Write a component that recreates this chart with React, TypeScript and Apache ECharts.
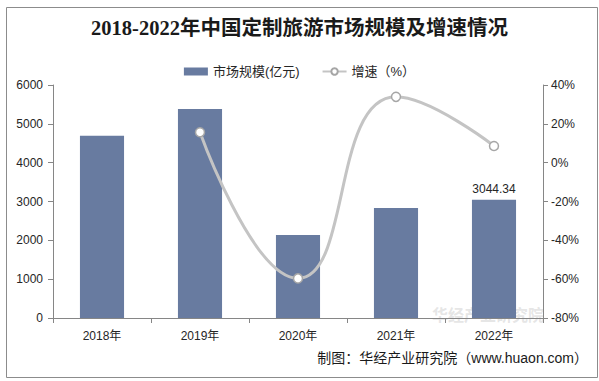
import React, { useEffect, useRef } from "react";
import * as echarts from "echarts";

const categories = ["2018年", "2019年", "2020年", "2021年", "2022年"];
const marketSize = [4695, 5380, 2140, 2833, 3044.34];
const growth = [null, 15.7, -59.6, 33.9, 8.6];
const leftTicks = { min: 0, max: 6000, interval: 1000 };
const rightTicks = { min: -80, max: 40, interval: 20 };
const titleText = "2018-2022年中国定制旅游市场规模及增速情况";
const sourceText = "制图：华经产业研究院（www.huaon.com）";
const watermarkText = "华经产业研究院";

export default function App() {
  const ref = useRef<HTMLDivElement>(null);
  useEffect(() => {
    if (!ref.current) return;
    const chart = echarts.init(ref.current, null, { renderer: "svg" });
    const axisColor = "#868686";
    const labelColor = "#262626";
    const font = "'Liberation Sans', Arial, 'Noto Sans CJK SC', sans-serif";
    chart.setOption({
      animation: false,
      backgroundColor: "#fff",
      textStyle: { fontFamily: font },
      title: {
        text: titleText,
        left: "center",
        top: 13,
        textStyle: {
          fontFamily: "'Liberation Serif', 'Noto Sans CJK SC', serif",
          fontSize: 20.5,
          fontWeight: "bold",
          color: "#1a1a1a",
        },
      },
      legend: {
        top: 60,
        left: "center",
        itemGap: 22,
        itemWidth: 24,
        itemHeight: 8,
        textStyle: { fontSize: 13, color: labelColor, fontFamily: font },
        data: [
          { name: "市场规模(亿元)", icon: "rect" },
          { name: "增速（%）" },
        ],
      },
      grid: { left: 53, right: 56, top: 85, bottom: 63 },
      xAxis: {
        type: "category",
        data: categories,
        axisLine: { lineStyle: { color: axisColor } },
        axisTick: { show: true, alignWithLabel: false, length: 5, lineStyle: { color: axisColor } },
        axisLabel: { color: labelColor, fontSize: 12, margin: 12 },
      },
      yAxis: [
        {
          type: "value",
          min: leftTicks.min,
          max: leftTicks.max,
          interval: leftTicks.interval,
          axisLine: { show: true, lineStyle: { color: axisColor } },
          axisTick: { show: true, length: 5, lineStyle: { color: axisColor } },
          axisLabel: { color: labelColor, fontSize: 12, margin: 10, formatter: (v: number) => String(v) },
          splitLine: { show: false },
        },
        {
          type: "value",
          min: rightTicks.min,
          max: rightTicks.max,
          interval: rightTicks.interval,
          position: "right",
          axisLine: { show: true, lineStyle: { color: axisColor } },
          axisTick: { show: true, length: 5, lineStyle: { color: axisColor } },
          axisLabel: { color: labelColor, fontSize: 12, margin: 8, formatter: "{value}%" },
          splitLine: { show: false },
        },
      ],
      series: [
        {
          name: "市场规模(亿元)",
          type: "bar",
          data: marketSize,
          barWidth: "45%",
          itemStyle: { color: "#687BA0" },
          label: {
            show: true,
            position: "top",
            color: labelColor,
            fontSize: 12,
            formatter: (p: any) => (p.dataIndex === marketSize.length - 1 ? String(p.value) : ""),
          },
        },
        {
          name: "增速（%）",
          type: "line",
          yAxisIndex: 1,
          data: growth,
          smooth: 0.5,
          symbol: "circle",
          symbolSize: 9,
          lineStyle: { color: "#C4C4C4", width: 3 },
          itemStyle: { color: "#fff", borderColor: "#A6A6A6", borderWidth: 1.5 },
        },
      ],
      graphic: [
        {
          type: "rect",
          left: 4,
          top: 5,
          shape: { width: 591, height: 370 },
          style: { fill: "none", stroke: "#8c8c8c", lineWidth: 1 },
          silent: true,
          z: -1,
        },
        {
          type: "text",
          left: 432,
          top: 306,
          style: {
            text: watermarkText,
            fontSize: 16,
            fontWeight: "bold",
            fill: "rgba(190,190,190,0.4)",
            fontFamily: "'Noto Sans CJK SC', sans-serif",
          },
          silent: true,
        },
        {
          type: "text",
          right: 11,
          top: 351,
          style: {
            text: sourceText,
            fontSize: 14,
            fill: "#1a1a1a",
            fontFamily: font,
          },
        },
      ],
    });
    return () => chart.dispose();
  }, []);
  return (
    <div
      ref={ref}
      style={{ position: "absolute", left: 0, top: 0, width: 599, height: 381 }}
    />
  );
}
